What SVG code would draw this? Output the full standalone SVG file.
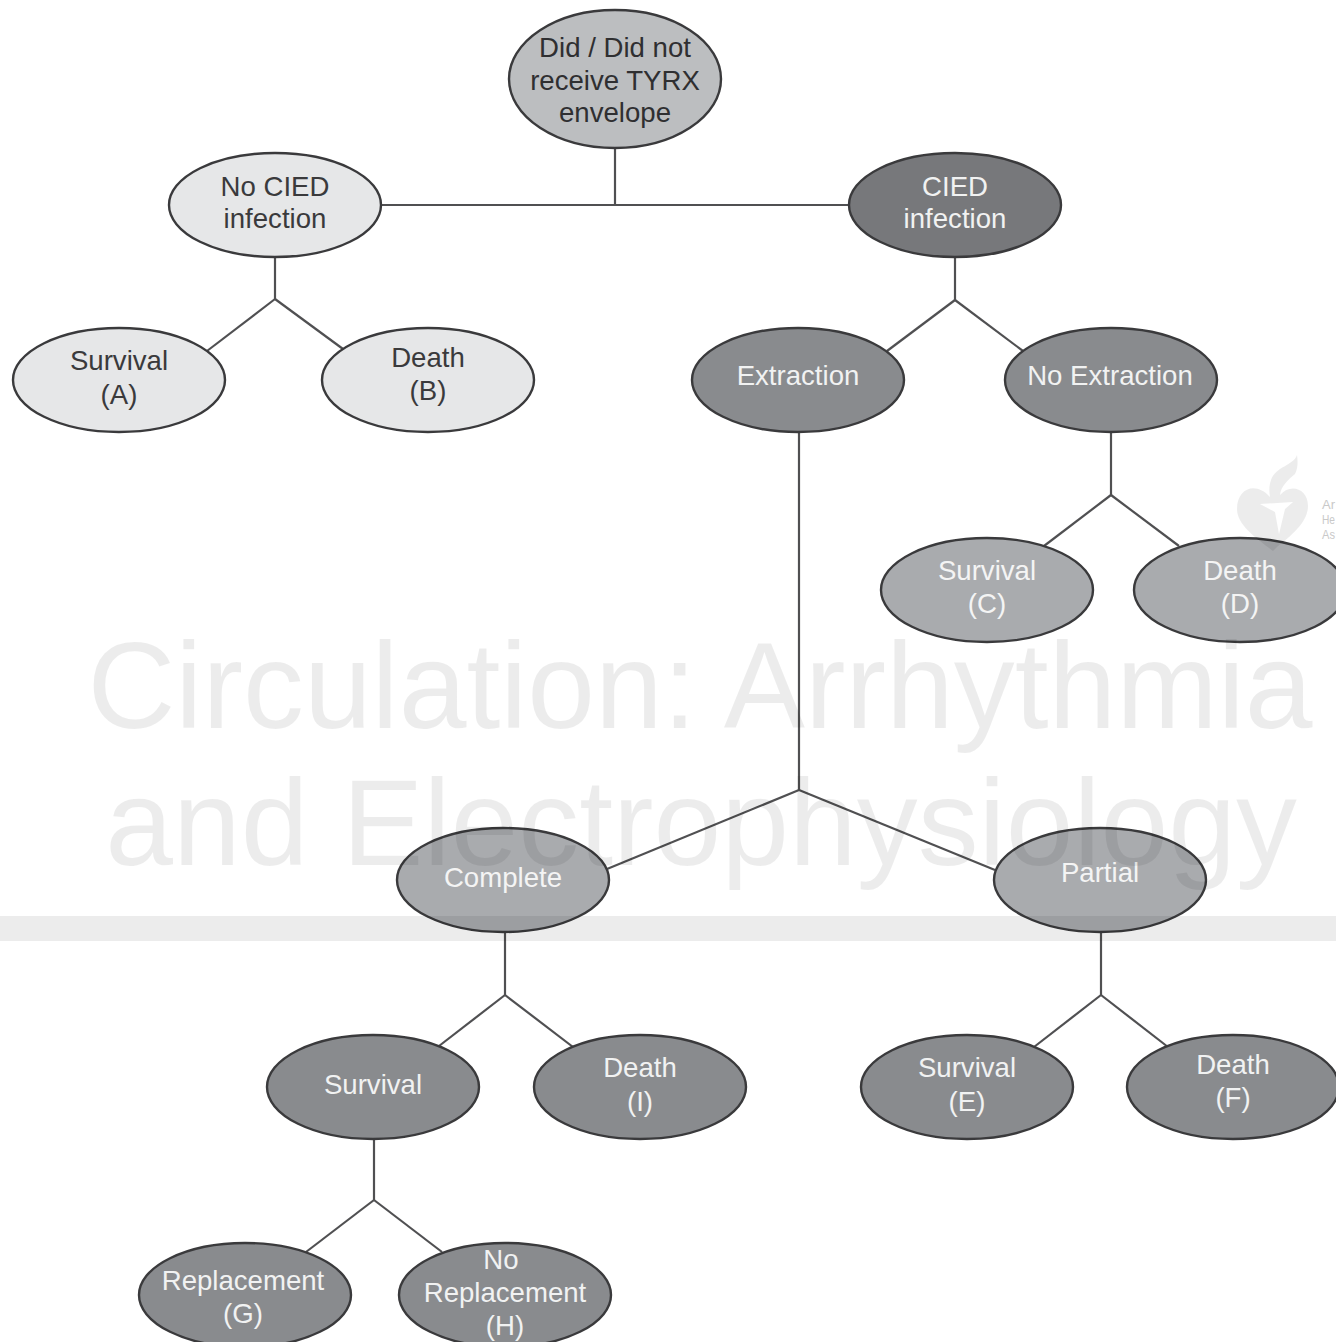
<svg xmlns="http://www.w3.org/2000/svg" width="1336" height="1342" viewBox="0 0 1336 1342">
<style>
text{font-family:"Liberation Sans",Arial,sans-serif;text-anchor:middle}
.n text{font-size:27.6px}
ellipse{stroke:#3a3a3c;stroke-width:2.4}
.c line{stroke:#505052;stroke-width:2.2}
.l ellipse{fill:#e6e7e8}.l text{fill:#3a3a3c}
.r ellipse{fill:#bcbec0}.r text{fill:#2f2f31}
.d ellipse{fill:#77787b}.d text{fill:#f1f2f2}
.m ellipse{fill:#898b8e}.m text{fill:#f1f2f2}
.g ellipse{fill:#a9abae}.g text{fill:#f4f4f4}
.w{fill:#000;fill-opacity:.075}
.wt{font-size:121.8px}
.aha{font-size:13px;text-anchor:start;fill:#c9c9c9}
</style>
<rect width="1336" height="1342" fill="#fff"/>
<g id="connectors" class="c">
<line x1="615" y1="148" x2="615" y2="205"/><line x1="381" y1="205" x2="849" y2="205"/>
<line x1="275" y1="257" x2="275" y2="299"/><line x1="275" y1="299" x2="207" y2="351"/><line x1="275" y1="299" x2="343" y2="349"/>
<line x1="955" y1="257" x2="955" y2="300"/><line x1="955" y1="300" x2="887" y2="351"/><line x1="955" y1="300" x2="1023" y2="351"/>
<line x1="1111" y1="432" x2="1111" y2="495"/><line x1="1111" y1="495" x2="1044" y2="546"/><line x1="1111" y1="495" x2="1179" y2="546"/>
<line x1="799" y1="432" x2="799" y2="790"/><line x1="799" y1="790" x2="607" y2="869"/><line x1="799" y1="790" x2="995" y2="870"/>
<line x1="505" y1="932" x2="505" y2="995"/><line x1="505" y1="995" x2="439" y2="1046"/><line x1="505" y1="995" x2="573" y2="1047"/>
<line x1="1101" y1="932" x2="1101" y2="995"/><line x1="1101" y1="995" x2="1034" y2="1047"/><line x1="1101" y1="995" x2="1168" y2="1047"/>
<line x1="374" y1="1139" x2="374" y2="1200"/><line x1="374" y1="1200" x2="306" y2="1252"/><line x1="374" y1="1200" x2="442" y2="1252"/>
</g>
<g id="root" class="n r"><ellipse cx="615" cy="79" rx="106" ry="69"/><text x="615" y="57">Did / Did not</text><text x="615" y="90">receive TYRX</text><text x="615" y="122">envelope</text></g>
<g id="no-infection" class="n l"><ellipse cx="275" cy="205" rx="106" ry="52"/><text x="275" y="196">No CIED</text><text x="275" y="228">infection</text></g>
<g id="infection" class="n d"><ellipse cx="955" cy="205" rx="106" ry="52"/><text x="955" y="196">CIED</text><text x="955" y="228">infection</text></g>
<g id="survival-a" class="n l"><ellipse cx="119" cy="380" rx="106" ry="52"/><text x="119" y="370">Survival</text><text x="119" y="404">(A)</text></g>
<g id="death-b" class="n l"><ellipse cx="428" cy="380" rx="106" ry="52"/><text x="428" y="367">Death</text><text x="428" y="400">(B)</text></g>
<g id="extraction" class="n m"><ellipse cx="798" cy="380" rx="106" ry="52"/><text x="798" y="385">Extraction</text></g>
<g id="no-extraction" class="n m"><ellipse cx="1111" cy="380" rx="106" ry="52"/><text x="1110" y="385">No Extraction</text></g>
<g id="survival-c" class="n g"><ellipse cx="987" cy="590" rx="106" ry="52"/><text x="987" y="580">Survival</text><text x="987" y="613">(C)</text></g>
<g id="death-d" class="n g"><ellipse cx="1240" cy="590" rx="106" ry="52"/><text x="1240" y="580">Death</text><text x="1240" y="613">(D)</text></g>
<g id="complete" class="n g"><ellipse cx="503" cy="880" rx="106" ry="52"/><text x="503" y="887">Complete</text></g>
<g id="partial" class="n g"><ellipse cx="1100" cy="880" rx="106" ry="52"/><text x="1100" y="882">Partial</text></g>
<g id="survival" class="n m"><ellipse cx="373" cy="1087" rx="106" ry="52"/><text x="373" y="1094">Survival</text></g>
<g id="death-i" class="n m"><ellipse cx="640" cy="1087" rx="106" ry="52"/><text x="640" y="1077">Death</text><text x="640" y="1111">(I)</text></g>
<g id="survival-e" class="n m"><ellipse cx="967" cy="1087" rx="106" ry="52"/><text x="967" y="1077">Survival</text><text x="967" y="1111">(E)</text></g>
<g id="death-f" class="n m"><ellipse cx="1233" cy="1087" rx="106" ry="52"/><text x="1233" y="1074">Death</text><text x="1233" y="1107">(F)</text></g>
<g id="replacement-g" class="n m"><ellipse cx="245" cy="1295" rx="106" ry="52"/><text x="243" y="1290">Replacement</text><text x="243" y="1323">(G)</text></g>
<g id="no-replacement-h" class="n m"><ellipse cx="505" cy="1295" rx="106" ry="52"/><text x="501" y="1269">No</text><text x="505" y="1302">Replacement</text><text x="505" y="1335">(H)</text></g>
<g id="watermark">
<rect class="w" y="916" width="1336" height="25"/>
<text class="w wt" x="700" y="728">Circulation: Arrhythmia</text>
<text class="w wt" x="701" y="865">and Electrophysiology</text>
<path class="w" fill-rule="evenodd" d="M1270 497C1256 481 1237 488 1237 509C1237 525 1256 538 1273 551L1277 547C1292 535 1308 522 1308 506C1308 488 1290 483 1280 495C1281 486 1288 480 1295 474C1298 468 1298 461 1297 455C1293 466 1276 466 1271 480C1269 486 1269 491 1270 497ZM1260 504L1293 502L1285 509L1279 534L1275 512Z"/>
<text class="aha" x="1322" y="509" textLength="13" lengthAdjust="spacingAndGlyphs">Ar</text>
<text class="aha" x="1322" y="524" textLength="13" lengthAdjust="spacingAndGlyphs">He</text>
<text class="aha" x="1322" y="539" textLength="13" lengthAdjust="spacingAndGlyphs">As</text>
</g>
</svg>
